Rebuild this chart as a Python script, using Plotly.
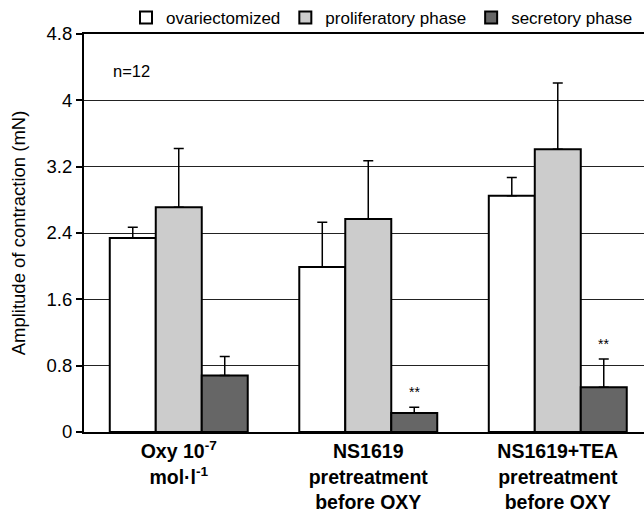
import plotly.graph_objects as go

categories = ["Oxy 10<sup>-7</sup><br>mol·l<sup>-1</sup>",
              "NS1619<br>pretreatment<br>before OXY",
              "NS1619+TEA<br>pretreatment<br>before OXY"]
series_names = ["ovariectomized", "proliferatory phase", "secretory phase"]
ovx = [2.34, 1.99, 2.85]
ovx_err = [0.13, 0.54, 0.22]
prolif = [2.71, 2.57, 3.41]
prolif_err = [0.71, 0.70, 0.80]
secr = [0.68, 0.23, 0.54]
secr_err = [0.23, 0.07, 0.34]
colors = ["#ffffff", "#cccccc", "#666666"]
yticks = [0, 0.8, 1.6, 2.4, 3.2, 4, 4.8]

FONT = "Liberation Sans, Arial, Helvetica, sans-serif"

fig = go.Figure()
for name, vals, errs, col in zip(series_names, [ovx, prolif, secr],
                                 [ovx_err, prolif_err, secr_err], colors):
    fig.add_trace(go.Bar(
        name=name, x=categories, y=vals,
        marker=dict(color=col, line=dict(color="black", width=2)),
        error_y=dict(type="data", array=errs, arrayminus=[0]*len(errs),
                     symmetric=False, color="black", thickness=1.5, width=5),
    ))

# significance marks on secretory phase bars
for i in [1, 2]:
    fig.add_annotation(x=categories[i], y=secr[i] + secr_err[i], text="**",
                       showarrow=False, xshift=46, yshift=15,
                       font=dict(size=14, color="black", family=FONT))

fig.add_annotation(x=0.048, y=0.907, xref="paper", yref="paper", text="n=12",
                   showarrow=False, xanchor="left", yanchor="middle",
                   font=dict(size=16.5, color="black", family=FONT))

fig.update_layout(
    width=644, height=509,
    margin=dict(l=84, r=0, t=34, b=77, autoexpand=False),
    paper_bgcolor="white", plot_bgcolor="white",
    barmode="group", bargap=0.272, bargroupgap=0,
    font=dict(family=FONT, size=16, color="black"),
    legend=dict(orientation="h", x=0.075, y=1.0, xanchor="left", yanchor="top",
                yref="container", font=dict(size=17), itemwidth=30,
                tracegroupgap=0, bgcolor="rgba(0,0,0,0)"),
    xaxis=dict(range=[-0.5, 2.455], showline=True, linecolor="black", linewidth=2,
               mirror=True, ticks="", showgrid=False, automargin=False,
               ticklabelstandoff=1,
               tickfont=dict(size=19.5, family=FONT, weight="bold"), fixedrange=True),
    yaxis=dict(range=[0, 4.8], tickvals=yticks, showline=True, linecolor="black",
               linewidth=2, ticks="outside", ticklen=6, tickwidth=1.5, tickcolor="black",
               showgrid=True, gridcolor="#222222", gridwidth=1, zeroline=False,
               automargin=False, tickfont=dict(size=18.5),
               title=dict(text="Amplitude of contraction (mN)", font=dict(size=18.5),
                          standoff=16)),
)

fig.write_html("out.html", config={"displayModeBar": False})
with open("out.html", encoding="utf-8") as f:
    html = f.read()
html = html.replace("<head>", "<head><style>html,body{margin:0;padding:0;overflow:hidden}</style>", 1)
with open("out.html", "w", encoding="utf-8") as f:
    f.write(html)
